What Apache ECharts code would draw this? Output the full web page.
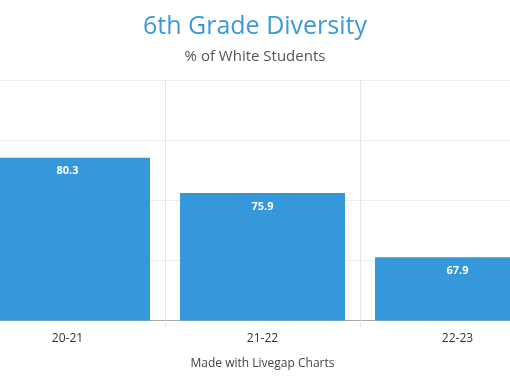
<!DOCTYPE html>
<html>
<head>
<meta charset="utf-8">
<script src="https://cdn.jsdelivr.net/npm/echarts@6/dist/echarts.min.js"></script>
<style>
html,body{margin:0;padding:0;background:#fff;overflow:hidden;width:510px;height:382px;position:relative;}
#c{position:absolute;left:-60px;top:0;width:630px;height:382px;}
</style>
</head>
<body>
<div id="c"></div>
<script>
const categories = ["20-21", "21-22", "22-23"];
const values = [80.3, 75.9, 67.9];
const titleText = "6th Grade Diversity";
const subtitleText = "% of White Students";
const xAxisName = "Made with Livegap Charts";

const chart = echarts.init(document.getElementById('c'));
chart.setOption({
  animation: false,
  backgroundColor: '#ffffff',
  textStyle: { fontFamily: 'Open Sans' },
  title: {
    text: titleText,
    subtext: subtitleText,
    left: 'center',
    top: 9,
    itemGap: 10,
    textStyle: { fontFamily: 'Open Sans', fontSize: 25, fontWeight: 'normal', color: '#3b99d8' },
    subtextStyle: { fontFamily: 'Open Sans', fontSize: 15, color: '#555555' }
  },
  grid: { left: 30, right: 15, top: 80, bottom: 61.5, containLabel: false },
  xAxis: {
    type: 'category',
    data: categories,
    name: xAxisName,
    nameLocation: 'middle',
    nameGap: 37,
    nameTextStyle: { fontFamily: 'Open Sans', fontSize: 12, color: '#444444' },
    axisLine: { show: true, lineStyle: { color: '#aaaaaa', width: 1 } },
    axisTick: { show: true, length: 7, lineStyle: { color: '#e6e6e6' } },
    axisLabel: { fontFamily: 'Open Sans', fontSize: 12, color: '#333333', margin: 12 },
    splitLine: { show: true, lineStyle: { color: '#e6e6e6', width: 1 } }
  },
  yAxis: {
    type: 'value',
    min: 60,
    max: 90,
    interval: 7.5,
    axisLine: { show: false },
    axisTick: { show: false },
    axisLabel: { show: false },
    splitLine: { show: true, lineStyle: { color: '#ececec', width: 1 } }
  },
  series: [{
    type: 'bar',
    data: values,
    barWidth: 165,
    itemStyle: { color: '#3598db' },
    label: {
      show: true,
      position: 'insideTop',
      distance: 8,
      color: '#ffffff',
      fontFamily: 'Open Sans',
      fontWeight: 'bold',
      fontSize: 11
    }
  }]
});
</script>
</body>
</html>
